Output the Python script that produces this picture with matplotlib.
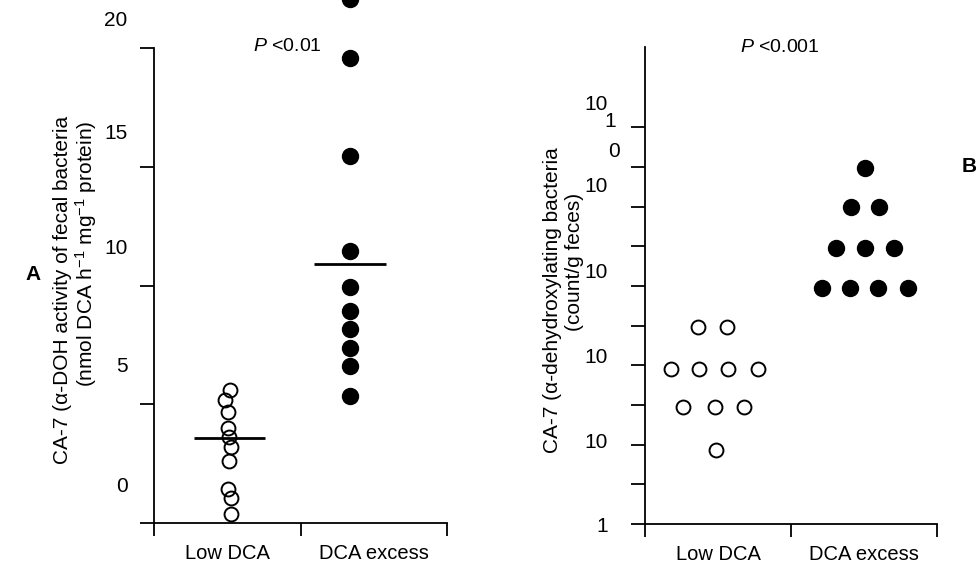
import numpy as np
import matplotlib
matplotlib.use('Agg')
import matplotlib.pyplot as plt
from matplotlib.transforms import ScaledTranslation

plt.rcParams['font.family'] = ['Liberation Sans', 'DejaVu Sans']
plt.rcParams['mathtext.fontset'] = 'custom'
plt.rcParams['mathtext.rm'] = 'Liberation Sans'
plt.rcParams['mathtext.it'] = 'Liberation Sans:italic'

groups = ['Low DCA', 'DCA excess']

# panel A: 7a-DOH activity (nmol DCA / h / mg protein)
a_low_x = [0.519, 0.485, 0.505, 0.505, 0.512, 0.526, 0.512, 0.505, 0.526, 0.526]
a_low = [5.62, 5.18, 4.67, 4.02, 3.64, 3.20, 2.59, 1.45, 1.05, 0.38]
a_high_x = [1.34] * 10
a_high = [22.06, 19.58, 15.45, 11.45, 9.94, 8.93, 8.17, 7.37, 6.61, 5.35]
a_means = [3.6, 10.9]
a_mean_x = [0.515, 1.34]
a_ticks = [0, 5, 10, 15, 20]
a_ticklabels = ['0', '5', '10', '15', '20']

# panel B: 7a-dehydroxylating bacteria, log10(count/g feces)
b_low_x = [0.363, 0.562, 0.178, 0.370, 0.568, 0.774, 0.260, 0.479, 0.678, 0.486]
b_low_log = [4.96, 4.96, 3.90, 3.90, 3.90, 3.90, 2.95, 2.95, 2.95, 1.86]
b_high_x = [1.507, 1.411, 1.603, 1.308, 1.507, 1.705, 1.212, 1.404, 1.596, 1.801]
b_high_log = [8.97, 7.98, 7.98, 6.95, 6.95, 6.95, 5.94, 5.94, 5.94, 5.94]
b_decades = list(range(11))
b_ticklabels = ['1', '', '10', '', '10', '', '10', '', '10', '0', '10']

fig = plt.figure(figsize=(9.76, 5.69), dpi=100)
axA = fig.add_axes([154/976, 46/569, 293/976, 475/569])
axB = fig.add_axes([645/976, 45/569, 292/976, 477/569])

def px(dx, dy):
    return ScaledTranslation(dx/100, dy/100, fig.dpi_scale_trans)

for ax in (axA, axB):
    for s in ('top', 'right'):
        ax.spines[s].set_visible(False)
    for s in ('left', 'bottom'):
        ax.spines[s].set_linewidth(1.3)
    ax.set_xlim(0, 2)
    ax.set_xticks([0, 1, 2])
    ax.set_xticklabels([])
    ax.set_xticks([0.5, 1.5], minor=True)
    ax.set_xticklabels(groups, minor=True, fontsize=14.5)
    ax.tick_params(axis='x', which='major', direction='out', length=9, width=1.3)
    ax.tick_params(axis='x', which='minor', length=0, pad=15)
    ax.tick_params(axis='y', direction='out', length=10, width=1.3, labelsize=15)

# ---- panel A
axA.set_ylim(0, 20)
axA.set_yticks(a_ticks)
axA.set_yticklabels(a_ticklabels)
axA.tick_params(axis='y', pad=9)
for lab, dy in zip(axA.get_yticklabels(), [38, 40, 39, 35, 30]):
    lab.set_transform(lab.get_transform() + px(0, dy))
axA.plot(a_low_x, a_low, 'o', mfc='none', mec='k', mew=1.4, ms=10, clip_on=False)
axA.plot(a_high_x, a_high, 'o', color='k', ms=11.5, clip_on=False)
for xc, m in zip(a_mean_x, a_means):
    axA.hlines(m, xc - 0.245, xc + 0.245, color='k', lw=2)
axA.text(0.91, 20.05, r'$\mathit{P}$ <0.01', ha='center', va='center', fontsize=14)

# ---- panel B
axB.set_yscale('log')
axB.set_ylim(1, 10**12.02)
axB.set_yticks([10.0**d for d in b_decades])
axB.set_yticklabels(b_ticklabels)
axB.yaxis.set_minor_locator(matplotlib.ticker.NullLocator())
axB.tick_params(axis='y', pad=17)
offs = [(0, 0), (0, 0), (0, 4), (0, 0), (0, 10), (0, 0), (0, 15), (0, 0), (0, 22), (12, 17), (0, 25)]
for lab, (dx, dy) in zip(axB.get_yticklabels(), offs):
    lab.set_transform(lab.get_transform() + px(dx, dy))
axB.text(-0.10, 10**10, '1', transform=axB.get_yaxis_transform() + px(0, 6),
         ha='right', va='center', fontsize=15)
axB.plot(b_low_x, [10**v for v in b_low_log], 'o', mfc='none', mec='k', mew=1.4, ms=10)
axB.plot(b_high_x, [10**v for v in b_high_log], 'o', color='k', ms=11.5)
axB.text(0.925, 10**12.02, r'$\mathit{P}$ <0.001', ha='center', va='center', fontsize=14)

# axis titles and panel letters
fig.text(63/976, 1 - 290/569, 'CA-7 (α-DOH activity of fecal bacteria',
         rotation=90, ha='center', va='center', fontsize=15)
fig.text(86/976, 1 - 254/569, r'(nmol DCA h$^{-1}$ mg$^{-1}$ protein)',
         rotation=90, ha='center', va='center', fontsize=15)
fig.text(553/976, 1 - 300/569, 'CA-7 (α-dehydroxylating bacteria',
         rotation=90, ha='center', va='center', fontsize=15)
fig.text(575/976, 1 - 262/569, '(count/g feces)',
         rotation=90, ha='center', va='center', fontsize=15)
fig.text(33/976, 1 - 275/569, 'A', ha='center', va='center', fontsize=15, fontweight='bold')
fig.text(962/976, 1 - 166/569, 'B', ha='left', va='center', fontsize=15, fontweight='bold')

fig.savefig('out.png', dpi=100)
